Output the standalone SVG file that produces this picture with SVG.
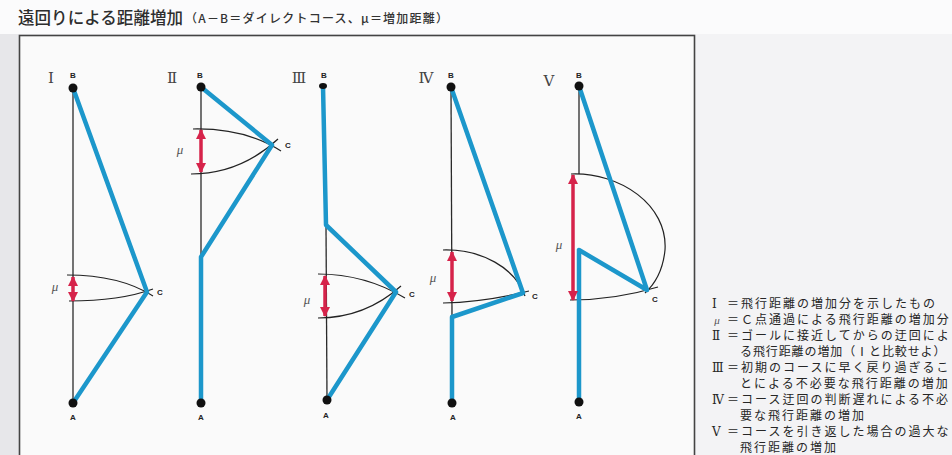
<svg xmlns="http://www.w3.org/2000/svg" width="952" height="455" viewBox="0 0 952 455">
<defs>
<marker id="rh" viewBox="0 0 10 10" refX="9" refY="5" markerWidth="10" markerHeight="11" markerUnits="userSpaceOnUse" orient="auto-start-reverse">
<path d="M0,0 L10,5 L0,10 z" fill="#d6234a"/>
</marker>
<style>
.blue{fill:none;stroke:#1c97cb;stroke-width:4.5;stroke-linejoin:round;stroke-linecap:round}
.ax{fill:none;stroke:#2a2a2a;stroke-width:1.3}
.arc{fill:none;stroke:#222;stroke-width:1.2}
.mu{fill:none;stroke:#d6234a;stroke-width:3.5;marker-start:url(#rh);marker-end:url(#rh)}
.dot{fill:#111}
.pt{font-family:"Liberation Sans",Arial,sans-serif;font-weight:bold;font-size:8px;fill:#222;text-anchor:middle}
.rn{font-family:"DejaVu Serif","Liberation Serif",serif;font-size:15px;fill:#444;text-anchor:middle}
.ml{font-family:"Liberation Serif",serif;font-style:italic;font-size:13px;fill:#555;text-anchor:middle}
.lg{font-family:"Noto Sans CJK JP",sans-serif;font-size:12px;letter-spacing:2px;fill:#262626}
.lr{font-family:"DejaVu Serif","Liberation Serif",serif;font-size:12px;fill:#262626}
</style>
</defs>
<rect x="0" y="0" width="952" height="455" fill="#f3f3f5"/>
<rect x="0" y="0" width="952" height="34" fill="#fbfbfc"/>
<rect x="0" y="34" width="19" height="421" fill="#e7e7ea"/>
<rect x="19.5" y="35.5" width="675" height="430" fill="#fafafa" stroke="#444" stroke-width="1.6"/>

<g id="title">
<text x="18" y="24" font-family="Noto Sans CJK JP, sans-serif" font-size="16.5" font-weight="500" fill="#2e2e2e" textLength="165">遠回りによる距離増加</text>
<text x="185" y="23" font-family="Noto Sans CJK JP, sans-serif" font-size="12" font-weight="500" fill="#333" textLength="263">（A－B＝ダイレクトコース、μ＝増加距離）</text>
</g>

<g id="diagram-1">
<text class="rn" x="51" y="83">Ⅰ</text>
<line class="ax" x1="73" y1="88" x2="73" y2="403"/>
<path class="arc" d="M67,275 Q120,275 153,296"/>
<path class="arc" d="M69,301 Q120,301 153,289"/>
<polyline class="blue" points="73,88 147,292 73,403"/>
<line class="mu" x1="73" y1="277" x2="73" y2="301"/>
<circle class="dot" cx="73" cy="88" r="4.5"/>
<circle class="dot" cx="73" cy="403" r="4.5"/>
<text class="pt" x="73" y="78">B</text>
<text class="pt" x="73" y="420">A</text>
<text class="pt" x="160" y="295">C</text>
<text class="ml" x="55" y="291">μ</text>
</g>

<g id="diagram-2">
<text class="rn" x="172" y="83">Ⅱ</text>
<line class="ax" x1="201" y1="87" x2="201" y2="257"/>
<path class="arc" d="M193,129 Q245,128 281,151"/>
<path class="arc" d="M191,174 Q240,174 278,139"/>
<polyline class="blue" points="201,87 272,145 201,257 201,403"/>
<line class="mu" x1="201" y1="130" x2="201" y2="172"/>
<circle class="dot" cx="201" cy="87" r="4.5"/>
<circle class="dot" cx="201" cy="403" r="4.5"/>
<text class="pt" x="200" y="78">B</text>
<text class="pt" x="201" y="420">A</text>
<text class="pt" x="288" y="148">C</text>
<text class="ml" x="180" y="154">μ</text>
</g>

<g id="diagram-3">
<text class="rn" x="299" y="83">Ⅲ</text>
<line class="ax" x1="326" y1="225" x2="327" y2="400"/>
<path class="arc" d="M318,274 Q365,274 405,298"/>
<path class="arc" d="M318,318 Q365,318 401,286"/>
<polyline class="blue" points="323,86 326,225 396,292 327,400"/>
<line class="mu" x1="325" y1="276" x2="325" y2="316"/>
<ellipse class="dot" cx="323" cy="86" rx="4" ry="3"/>
<circle class="dot" cx="327" cy="400" r="4.5"/>
<text class="pt" x="326" y="418">A</text>
<text class="pt" x="324" y="78">B</text>
<text class="pt" x="412" y="297">C</text>
<text class="ml" x="307" y="304">μ</text>
</g>

<g id="diagram-4">
<text class="rn" x="426" y="83">Ⅳ</text>
<line class="ax" x1="451" y1="87" x2="452" y2="317"/>
<path class="arc" d="M443,250 C482,249 515,268 525,296"/>
<path class="arc" d="M443,303 Q485,302 529,291"/>
<polyline class="blue" points="451,87 523,293 452,317 452,403"/>
<line class="mu" x1="452" y1="252" x2="452" y2="301"/>
<circle class="dot" cx="451" cy="87" r="4.5"/>
<circle class="dot" cx="452" cy="403" r="4.5"/>
<text class="pt" x="451" y="78">B</text>
<text class="pt" x="453" y="420">A</text>
<text class="pt" x="535" y="299">C</text>
<text class="ml" x="433" y="282">μ</text>
</g>

<g id="diagram-5">
<text class="rn" x="549" y="86">Ⅴ</text>
<line class="ax" x1="579" y1="86" x2="579" y2="174"/>
<path class="arc" d="M571,174 C620,172 668,205 665,250 C663,270 656,283 645,293"/>
<path class="arc" d="M570,300 Q615,300 658,287"/>
<polyline class="blue" points="579,86 647,290 579,250 579,402"/>
<line class="mu" x1="573" y1="175" x2="573" y2="300"/>
<circle class="dot" cx="579" cy="86" r="4.5"/>
<circle class="dot" cx="579" cy="402" r="4.5"/>
<text class="pt" x="579" y="78">B</text>
<text class="pt" x="579" y="419">A</text>
<text class="pt" x="655" y="302">C</text>
<text class="ml" x="559" y="249">μ</text>
</g>

<g id="legend">
<text class="lr" x="712" y="308">Ⅰ</text><text class="lg" x="727" y="308">＝飛行距離の増加分を示したもの</text>
<text class="ml" x="717" y="324" style="font-size:11px">μ</text><text class="lg" x="727" y="324">＝Ｃ点通過による飛行距離の増加分</text>
<text class="lr" x="712" y="340">Ⅱ</text><text class="lg" x="727" y="340">＝ゴールに接近してからの迂回によ</text>
<text class="lg" x="740" y="356" style="letter-spacing:0.9px">る飛行距離の増加（Ⅰと比較せよ）</text>
<text class="lr" x="712" y="372">Ⅲ</text><text class="lg" x="727" y="372">＝初期のコースに早く戻り過ぎるこ</text>
<text class="lg" x="740" y="388">とによる不必要な飛行距離の増加</text>
<text class="lr" x="712" y="404">Ⅳ</text><text class="lg" x="727" y="404">＝コース迂回の判断遅れによる不必</text>
<text class="lg" x="740" y="420">要な飛行距離の増加</text>
<text class="lr" x="712" y="436">Ⅴ</text><text class="lg" x="727" y="436">＝コースを引き返した場合の過大な</text>
<text class="lg" x="740" y="452">飛行距離の増加</text>
</g>
</svg>
